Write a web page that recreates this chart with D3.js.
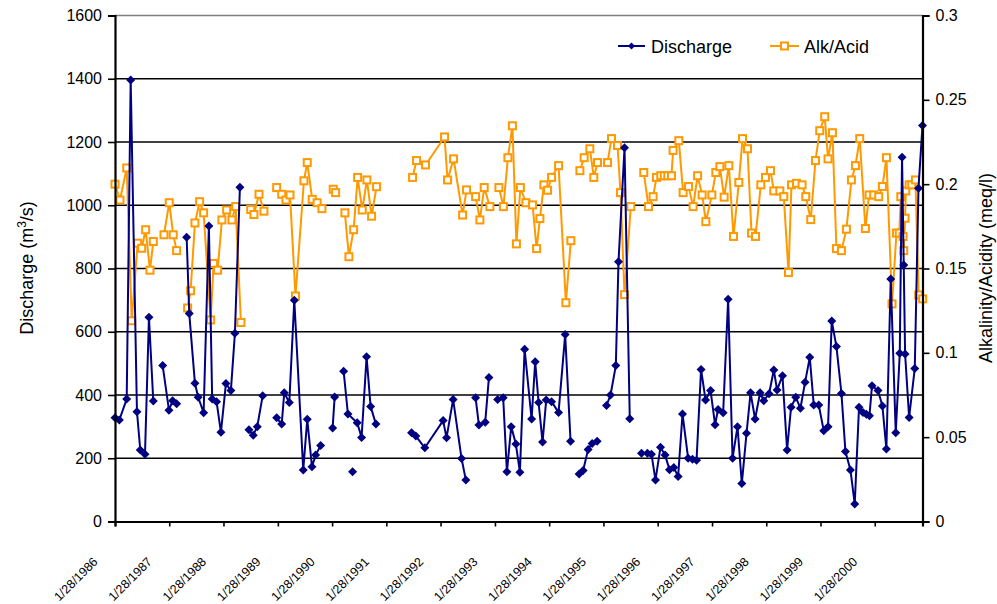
<!DOCTYPE html>
<html>
<head>
<meta charset="utf-8">
<script src="https://cdn.jsdelivr.net/npm/d3@7"></script>
<style>
  body { margin: 0; background: #ffffff; }
  svg { display: block; font-family: "Liberation Sans", Arial, sans-serif; }
</style>
</head>
<body>
<svg id="chart" width="997" height="604"></svg>
<script>
// ---- data ---------------------------------------------------------------
// Sample dates are decimal years; null marks a break in the record.
const yearTicks = [1986, 1987, 1988, 1989, 1990, 1991, 1992, 1993, 1994, 1995, 1996, 1997, 1998, 1999, 2000];
const tickLabels = yearTicks.map(y => `1/28/${y}`);
const dischargeTicks = [0, 200, 400, 600, 800, 1000, 1200, 1400, 1600];
const alkTicks = [0, 0.05, 0.1, 0.15, 0.2, 0.25, 0.3];
const seriesNames = ["Discharge", "Alk/Acid"];

const dischargeDates = [
  1986.074, 1986.153, 1986.29, 1986.363, 1986.479, 1986.54, 1986.627, 1986.70, 1986.78, null,
  1986.953, 1987.069, 1987.137, 1987.21, null,
  1987.395, 1987.443, 1987.548, 1987.608, 1987.708, 1987.805, 1987.866, 1987.947, 1988.027, 1988.119, 1988.21, 1988.284, 1988.376, null,
  1988.542, 1988.621, 1988.695, 1988.795, null,
  1989.052, 1989.145, 1989.192, 1989.285, 1989.377, 1989.542, 1989.616, 1989.703, 1989.77, 1989.863, null,
  1990.084, 1990.121, null,
  1990.287, 1990.366, 1990.537, 1990.618, 1990.71, 1990.784, 1990.882, null,
  1990.452, null,
  1991.539, 1991.618, 1991.784, 1992.121, 1992.184, 1992.305, 1992.46, 1992.539, null,
  1992.718, 1992.779, 1992.895, 1992.963, null,
  1993.123, 1993.226, 1993.295, 1993.374, 1993.46, 1993.534, 1993.621, 1993.75, 1993.816, 1993.879, 1993.952, 1994.019, 1994.118, 1994.247, 1994.369, 1994.468, null,
  1994.626, 1994.7, 1994.792, 1994.866, 1994.958, null,
  1995.131, 1995.205, 1995.303, 1995.352, 1995.463, 1995.56, null,
  1995.776, 1995.886, 1995.96, 1996.034, 1996.126, 1996.21, 1996.292, 1996.371, 1996.45, 1996.531,
  1996.634, 1996.715, 1996.789, 1996.872, 1996.955, 1997.047, 1997.13, 1997.185, 1997.279, 1997.371,
  1997.452, 1997.544, 1997.623, 1997.71, 1997.784, 1997.868, 1997.96, 1998.028, 1998.126, 1998.213,
  1998.273, 1998.373, 1998.458, 1998.531, 1998.618, 1998.704, 1998.789, 1998.876, 1998.95, 1999.042,
  1999.134, 1999.213, 1999.281, 1999.368, 1999.46, 1999.534, 1999.626, 1999.705, 1999.784, 1999.858,
  1999.92, 1999.976, 2000.023, 2000.134, 2000.215, 2000.288, 2000.368, 2000.46, 2000.534, 2000.576,
  2000.607, 2000.632, 2000.706, 2000.81, 2000.878, 2000.952
];
const dischargeValues = [
  328, 321, 387, 1396, 347, 226, 213, 646, 381, null,
  493, 352, 382, 372, null,
  899, 658, 437, 393, 344, 934, 387, 379, 282, 436, 414, 595, 1057, null,
  290, 273, 300, 398, null,
  328, 308, 407, 376, 700, 163, 323, 173, 210, 240, null,
  296, 394, null,
  475, 340, 312, 266, 521, 364, 308, null,
  157, null,
  281, 270, 233, 319, 265, 386, 199, 131, null,
  391, 305, 314, 455, null,
  386, 391, 157, 300, 245, 156, 545, 324, 505, 376, 251, 384, 379, 345, 591, 254, null,
  150, 161, 228, 247, 254, null,
  367, 400, 493, 821, 1182, 325, null,
  216, 216, 213, 131, 235, 210, 164, 171, 142, 340,
  200, 197, 194, 481, 384, 414, 306, 354, 344, 703,
  200, 300, 120, 279, 407, 324, 407, 382, 404, 479,
  416, 461, 226, 361, 393, 358, 440, 519, 368, 368,
  287, 300, 634, 553, 405, 221, 163, 55, 361, 345,
  339, 334, 429, 414, 365, 229, 767, 281, 532, 1152,
  811, 530, 329, 484, 1054, 1252
];

const alkDates = [
  1986.074, 1986.166, 1986.29, 1986.382, 1986.492, 1986.566, 1986.639, 1986.719, 1986.78, null,
  1986.977, 1987.074, 1987.148, 1987.21, null,
  1987.413, 1987.468, 1987.548, 1987.634, 1987.708, 1987.837, 1987.892, 1987.966, 1988.045, 1988.132, 1988.229, 1988.297, 1988.395, null,
  1988.574, 1988.634, 1988.727, 1988.818, null,
  1989.052, 1989.145, 1989.224, 1989.298, 1989.399, 1989.555, 1989.616, 1989.708, 1989.798, 1989.887, null,
  1990.095, 1990.139, null,
  1990.31, 1990.384, 1990.471, 1990.545, 1990.63, 1990.716, 1990.802, 1990.894, null,
  1991.558, 1991.631, 1991.797, 1992.147, 1992.202, 1992.313, 1992.479, 1992.552, 1992.718, 1992.797, 1992.876, 1992.981, null,
  1993.147, 1993.23, 1993.313, 1993.396, 1993.47, 1993.543, 1993.645, 1993.768, 1993.842, 1993.903, 1993.976, 1994.044, 1994.118, 1994.247, 1994.382, 1994.474, null,
  1994.64, 1994.719, 1994.824, 1994.897, 1994.965, null,
  1995.15, 1995.223, 1995.334, 1995.389, 1995.463, 1995.579, null,
  1995.818, 1995.905, 1995.99, 1996.052, 1996.131, 1996.196, 1996.26, 1996.328, 1996.358, 1996.463,
  1996.542, 1996.642, 1996.726, 1996.808, 1996.892, 1996.96, 1997.071, 1997.144, 1997.218, 1997.297,
  1997.384, 1997.47, 1997.568, 1997.636, 1997.728, 1997.802, 1997.876, 1997.973, 1998.06, 1998.152,
  1998.213, 1998.324, 1998.397, 1998.484, 1998.539, 1998.631, 1998.734, 1998.802, 1998.894, 1998.981,
  1999.06, 1999.152, 1999.213, 1999.294, 1999.368, 1999.46, 1999.552, 1999.644, 1999.718, 1999.797,
  1999.902, 1999.969, 2000.055, 2000.147, 2000.215, 2000.289, 2000.392, 2000.473, 2000.525, 2000.553,
  2000.594, 2000.607, 2000.632, 2000.645, 2000.706, 2000.755, 2000.822, 2000.882, 2000.955
];
const alkValues = [
  0.200, 0.1906, 0.2096, 0.119, 0.165, 0.162, 0.173, 0.149, 0.166, null,
  0.170, 0.189, 0.170, 0.1606, null,
  0.1266, 0.1368, 0.177, 0.1896, 0.183, 0.1195, 0.153, 0.149, 0.1788, 0.1847, 0.1788, 0.1867, 0.118, null,
  0.185, 0.182, 0.194, 0.184, null,
  0.198, 0.194, 0.1906, 0.1936, 0.1337, 0.202, 0.2128, 0.191, 0.189, 0.1855, null,
  0.197, 0.195, null,
  0.183, 0.157, 0.173, 0.204, 0.1847, 0.2025, 0.181, 0.1985, null,
  0.204, 0.214, 0.2114, 0.228, 0.2025, 0.215, 0.1817, 0.1966, 0.1926, 0.1788, 0.198, 0.1867, null,
  0.198, 0.1867, 0.2157, 0.2346, 0.1646, 0.198, 0.189, 0.1877, 0.1618, 0.1796, 0.1996, 0.1964, 0.204, 0.211, 0.1297, 0.1665, null,
  0.208, 0.2157, 0.221, 0.204, 0.2128, null,
  0.2128, 0.227, 0.2229, 0.195, 0.1345, 0.1867, null,
  0.2069, 0.1867, 0.1926, 0.204, 0.205, 0.205, 0.205, 0.205, 0.22, 0.2258,
  0.195, 0.1986, 0.1867, 0.205, 0.1936, 0.1778, 0.1936, 0.2069, 0.2104, 0.1923,
  0.211, 0.169, 0.201, 0.227, 0.221, 0.171, 0.169, 0.1996, 0.204, 0.208,
  0.196, 0.196, 0.1926, 0.1476, 0.1996, 0.2005, 0.1996, 0.1926, 0.179, 0.214,
  0.2317, 0.240, 0.215, 0.2305, 0.1618, 0.1606, 0.1733, 0.2025, 0.211, 0.227,
  0.1737, 0.1936, 0.1936, 0.1926, 0.1986, 0.2157, 0.129, 0.171, 0.171, 0.1926,
  0.169, 0.1606, 0.1798, 0.196, 0.1996, 0.1996, 0.2025, 0.1343, 0.132
];

// ---- helpers ------------------------------------------------------------
function yearToDate(y) {
  const Y = Math.floor(y);
  const a = new Date(Y, 0, 1), b = new Date(Y + 1, 0, 1);
  return new Date(+a + (y - Y) * (b - a));
}
function buildSeries(dates, values) {
  return dates.map((d, i) => (d == null || values[i] == null) ? null : { date: yearToDate(d), value: values[i] });
}
const discharge = buildSeries(dischargeDates, dischargeValues);
const alk = buildSeries(alkDates, alkValues);

// ---- layout -------------------------------------------------------------
const plot = { left: 115, right: 922.5, top: 15.5, bottom: 521.5 };
const NAVY = "#000080", ORANGE = "#FF9900";

const svg = d3.select("#chart");

const x = d3.scaleTime()
  .domain([new Date(1986, 0, 28), yearToDate(2000.952)])
  .range([plot.left, plot.right]);
const yL = d3.scaleLinear().domain([0, 1600]).range([plot.bottom, plot.top]);
const yR = d3.scaleLinear().domain([0, 0.3]).range([plot.bottom, plot.top]);

// gridlines
svg.append("g")
  .selectAll("line")
  .data(dischargeTicks.filter(v => v > 0 && v < 1600))
  .join("line")
  .attr("x1", plot.left).attr("x2", plot.right)
  .attr("y1", d => yL(d)).attr("y2", d => yL(d))
  .attr("stroke", "#000").attr("stroke-width", 1.3);

// plot-area top border
svg.append("line")
  .attr("x1", plot.left).attr("x2", plot.right)
  .attr("y1", yL(1600)).attr("y2", yL(1600))
  .attr("stroke", "#808080").attr("stroke-width", 1.5);

// ---- series -------------------------------------------------------------
const lineL = d3.line().defined(d => d).x(d => x(d.date)).y(d => yL(d.value));
const lineR = d3.line().defined(d => d).x(d => x(d.date)).y(d => yR(d.value));

svg.append("path")
  .attr("d", lineR(alk))
  .attr("fill", "none").attr("stroke", ORANGE).attr("stroke-width", 2)
  .attr("stroke-linejoin", "round");

const sq = 7;
svg.append("g")
  .selectAll("rect")
  .data(alk.filter(d => d))
  .join("rect")
  .attr("x", d => x(d.date) - sq / 2).attr("y", d => yR(d.value) - sq / 2)
  .attr("width", sq).attr("height", sq)
  .attr("fill", "#ffffff").attr("stroke", ORANGE).attr("stroke-width", 2);

svg.append("path")
  .attr("d", lineL(discharge))
  .attr("fill", "none").attr("stroke", NAVY).attr("stroke-width", 2)
  .attr("stroke-linejoin", "round");

const diamond = "M0,-4.5L4.5,0L0,4.5L-4.5,0Z";
svg.append("g")
  .selectAll("path")
  .data(discharge.filter(d => d))
  .join("path")
  .attr("transform", d => `translate(${x(d.date)},${yL(d.value)})`)
  .attr("d", diamond)
  .attr("fill", NAVY);

// ---- axes ---------------------------------------------------------------
const axisL = svg.append("g")
  .attr("transform", `translate(${plot.left},0)`)
  .call(d3.axisLeft(yL).tickValues(dischargeTicks).tickSize(7).tickPadding(6).tickFormat(d3.format("d")));
const axisR = svg.append("g")
  .attr("transform", `translate(${plot.right},0)`)
  .call(d3.axisRight(yR).tickValues(alkTicks).tickSize(7).tickPadding(6).tickFormat(d => String(+d.toFixed(2))));
const axisB = svg.append("g")
  .attr("transform", `translate(0,${plot.bottom})`)
  .call(d3.axisBottom(x).tickValues(yearTicks.map(y => new Date(y, 0, 28))).tickSize(5)
    .tickFormat((d, i) => tickLabels[i]));

[axisL, axisR, axisB].forEach(g => {
  g.select(".domain").attr("stroke", "#000").attr("stroke-width", 2.2);
  g.selectAll(".tick line").attr("stroke", "#000").attr("stroke-width", 1.6);
  g.selectAll("text").attr("fill", "#000").attr("font-family", '"Liberation Sans", Arial, sans-serif');
});
axisL.selectAll("text").attr("font-size", 16);
axisR.selectAll("text").attr("font-size", 16);
axisB.selectAll("text")
  .attr("font-size", 12.5)
  .attr("text-anchor", "end")
  .attr("dy", null)
  .attr("y", null)
  .attr("transform", "translate(-17,41) rotate(-45)");

// ---- axis titles ----------------------------------------------------------
const leftTitle = svg.append("text")
  .attr("transform", "translate(33,268) rotate(-90)")
  .attr("text-anchor", "middle")
  .attr("font-size", 18).attr("fill", "#000");
leftTitle.append("tspan").text("Discharge (m");
leftTitle.append("tspan").attr("font-size", 12).attr("dy", -7).text("3");
leftTitle.append("tspan").attr("dy", 7).text("/s)");

svg.append("text")
  .attr("transform", "translate(992,268) rotate(-90)")
  .attr("text-anchor", "middle")
  .attr("font-size", 18).attr("fill", "#000")
  .text("Alkalinity/Acidity  (meq/l)");

// ---- legend ---------------------------------------------------------------
const legend = svg.append("g").attr("font-size", 18);
const lg1 = legend.append("g").attr("transform", "translate(618,46)");
lg1.append("line").attr("x1", 0).attr("x2", 27).attr("stroke", NAVY).attr("stroke-width", 2);
lg1.append("path").attr("transform", "translate(13.5,0)").attr("d", "M0,-3.5L3.5,0L0,3.5L-3.5,0Z").attr("fill", NAVY);
lg1.append("text").attr("x", 33).attr("y", 6.5).text(seriesNames[0]);

const lg2 = legend.append("g").attr("transform", "translate(770,46)");
lg2.append("line").attr("x1", 0).attr("x2", 29).attr("stroke", ORANGE).attr("stroke-width", 2);
lg2.append("rect").attr("x", 11).attr("y", -3.5).attr("width", 7).attr("height", 7)
  .attr("fill", "#fff").attr("stroke", ORANGE).attr("stroke-width", 2);
lg2.append("text").attr("x", 34).attr("y", 6.5).text(seriesNames[1]);
</script>
</body>
</html>
